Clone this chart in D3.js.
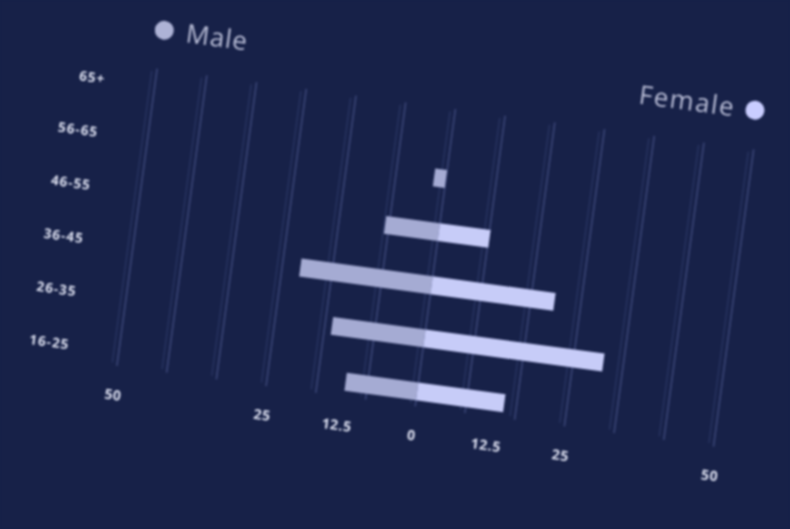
<!DOCTYPE html>
<html>
<head>
<meta charset="utf-8">
<script src="https://cdn.jsdelivr.net/npm/d3@7"></script>
<style>
  html, body { margin: 0; padding: 0; background: #172148; overflow: hidden; }
  svg { display: block; filter: blur(0.8px); }
</style>
</head>
<body>
<div id="chart-area"><svg></svg></div>
<script>
// Age groups, top to bottom
const ageGroups = ["65+", "56-65", "46-55", "36-45", "26-35", "16-25"];
// Values (percent)
const maleValues = [0, 2, 9, 22, 15.5, 12];
const femaleValues = [0, 0, 8.5, 20.6, 30, 14.6];
// Axis tick values and their labels
const tickValues = [-50, -25, -12.5, 0, 12.5, 25, 50];
const tickLabels = ["50", "25", "12.5", "0", "12.5", "25", "50"];
const gridValues = d3.range(-50, 50.01, 100 / 12);

const width = 790, height = 529;
const svg = d3.select("#chart-area").select("svg")
    .attr("width", width).attr("height", height);

svg.append("rect").attr("width", width).attr("height", height).attr("fill", "#172148");

// whole chart is tilted like in the photo
const g = svg.append("g").attr("transform", "rotate(7.7, 400, 265)");

const x = d3.scaleLinear().domain([-50, 50]).range([133, 735]);
const y = d3.scalePoint().domain(ageGroups).range([120, 388]);
const barH = 18;

// grid lines (doubled, as in the picture)
g.selectAll(".grid2").data(gridValues).enter().append("line")
    .attr("x1", d => x(d) - 5).attr("x2", d => x(d) - 5)
    .attr("y1", 106).attr("y2", 400)
    .attr("stroke", "#2b3765").attr("stroke-width", 1.2);
g.selectAll(".grid").data(gridValues).enter().append("line")
    .attr("x1", d => x(d)).attr("x2", d => x(d))
    .attr("y1", 103).attr("y2", 403)
    .attr("stroke", "#3a4576").attr("stroke-width", 1.6);

// bars
const rows = ageGroups.map((a, i) => ({ age: a, m: maleValues[i], f: femaleValues[i] }));
g.selectAll(".male").data(rows).enter().append("rect")
    .attr("x", d => x(-d.m)).attr("y", d => y(d.age) - barH / 2)
    .attr("width", d => x(0) - x(-d.m)).attr("height", barH)
    .attr("fill", "#a5abd3");
g.selectAll(".female").data(rows).enter().append("rect")
    .attr("x", x(0)).attr("y", d => y(d.age) - barH / 2)
    .attr("width", d => x(d.f) - x(0)).attr("height", barH)
    .attr("fill", "#c7ccf8");

// row labels
g.selectAll(".age").data(ageGroups).enter().append("text")
    .attr("x", 83).attr("y", d => y(d) + 5)
    .attr("text-anchor", "end")
    .attr("font-family", "Open Sans").attr("font-weight", 700)
    .attr("font-size", 13.5).attr("letter-spacing", 1)
    .attr("fill", "#dfe2f2")
    .text(d => d);

// x tick labels
g.selectAll(".tick").data(tickValues).enter().append("text")
    .attr("x", d => x(d)).attr("y", 437)
    .attr("text-anchor", "middle")
    .attr("font-family", "Open Sans").attr("font-weight", 700)
    .attr("font-size", 14).attr("letter-spacing", 0.5)
    .attr("fill", "#dfe2f2")
    .text((d, i) => tickLabels[i]);

// legend
g.append("circle").attr("cx", 135).attr("cy", 64).attr("r", 9.5).attr("fill", "#aeb3d6");
g.append("text").attr("x", 157).attr("y", 73)
    .attr("font-family", "Open Sans").attr("font-size", 26).attr("letter-spacing", 0.8)
    .attr("fill", "#b9bdd6").text("Male");
g.append("circle").attr("cx", 731).attr("cy", 64).attr("r", 9.5).attr("fill", "#c9cdff");
g.append("text").attr("x", 711).attr("y", 73).attr("text-anchor", "end")
    .attr("font-family", "Open Sans").attr("font-size", 26).attr("letter-spacing", 1.5)
    .attr("fill", "#b9bdd6").text("Female");
</script>
</body>
</html>
